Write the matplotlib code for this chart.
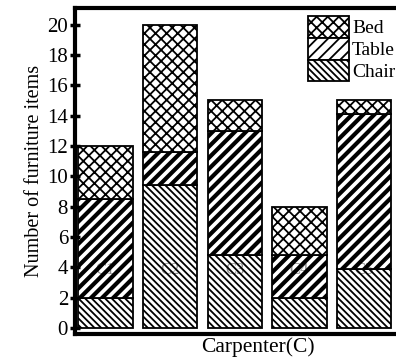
import matplotlib
matplotlib.use('Agg')
import matplotlib.pyplot as plt
import numpy as np

plt.rcParams['font.family'] = ['Liberation Serif', 'DejaVu Serif']
plt.rcParams['hatch.linewidth'] = 1.3

# data
carpenters = ['C1', 'C2', 'C3', 'C4', 'C5']
chair = [2.0, 9.4, 4.8, 2.0, 3.9]
table = [6.5, 2.2, 8.2, 2.8, 10.2]
bed = [3.5, 8.4, 2.0, 3.2, 0.9]

fig = plt.figure(figsize=(3.96, 3.62), dpi=100)
# axes runs past the right edge (reference is cropped there)
ax = fig.add_axes([75/396, 28/362, 366/396, 326/362])

x = np.arange(len(carpenters))
w = 0.84
chair_b = ax.bar(x, chair, w, color='white', edgecolor='black', hatch='\\\\\\\\\\', linewidth=1.3, label='Chair')
table_b = ax.bar(x, table, w, bottom=chair, color='white', edgecolor='black', hatch='///', linewidth=1.3, label='Table')
bottom2 = np.array(chair) + np.array(table)
bed_b = ax.bar(x, bed, w, bottom=bottom2, color='white', edgecolor='black', hatch='xxx', linewidth=1.3, label='Bed')

# thicker stripes for the table part
for p in table_b:
    if hasattr(p, 'set_hatch_linewidth'):
        p.set_hatch_linewidth(3.0)
for p in chair_b:
    if hasattr(p, 'set_hatch_linewidth'):
        p.set_hatch_linewidth(1.3)

for i, name in enumerate(carpenters):
    ax.text(i, 3.8, name, ha='center', va='center', fontsize=12, color='black', alpha=0.45)

ax.set_xlim(-0.47, 5.19)
ax.set_ylim(-0.4, 21.1)
ax.set_yticks(range(0, 21, 2))
ax.set_xticks([])
ax.tick_params(axis='y', direction='inout', length=7, width=2.5, labelsize=15, pad=1.5)
for s in ax.spines.values():
    s.set_linewidth(3)

ax.set_ylabel('Number of furniture items', fontsize=14.5, labelpad=2)
ax.set_xlabel('Carpenter(C)', fontsize=15.5, labelpad=2)

leg = ax.legend(handles=[bed_b, table_b, chair_b], loc='upper left', bbox_to_anchor=(0.637, 0.975),
                frameon=False, labelspacing=0, handleheight=1.34, handlelength=2.1,
                handletextpad=0.15, borderaxespad=0, borderpad=0, fontsize=14)
for p in leg.get_patches():
    if p.get_label() == 'Table' and hasattr(p, 'set_hatch_linewidth'):
        p.set_hatch_linewidth(3.0)

fig.savefig('out.png', dpi=100)
